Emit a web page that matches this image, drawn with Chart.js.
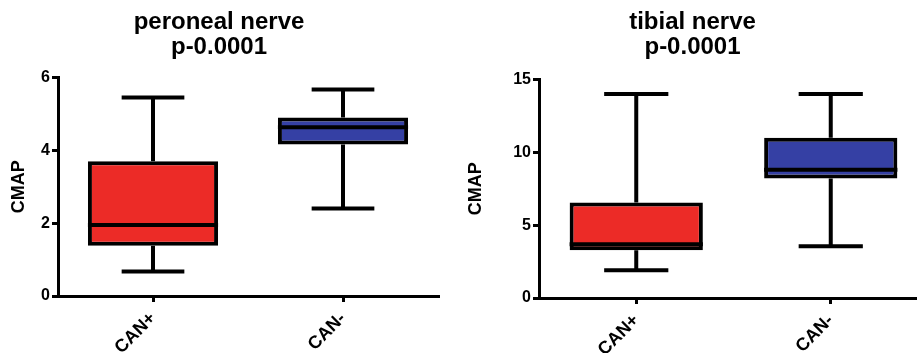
<!DOCTYPE html>
<html>
<head>
<meta charset="utf-8">
<script src="https://cdn.jsdelivr.net/npm/chart.js@4"></script>
<style>
  html, body { margin:0; padding:0; background:#fff; width:917px; height:353px; overflow:hidden; }
  .box { position:absolute; top:0; height:353px; }
</style>
</head>
<body>
<div class="box" style="left:0;width:457px;"><canvas id="c1"></canvas></div>
<div class="box" style="left:457px;width:514px;"><canvas id="c2"></canvas></div>
<script>
const categories = ['CAN+', 'CAN-'];

const peronealMin    = [0.67, 2.4];
const peronealQ1     = [1.38, 4.16];
const peronealMedian = [1.95, 4.63];
const peronealQ3     = [3.7, 4.9];
const peronealMax    = [5.45, 5.67];

const tibialMin    = [1.9, 3.55];
const tibialQ1     = [3.27, 8.2];
const tibialMedian = [3.68, 8.8];
const tibialQ3     = [6.55, 11.0];
const tibialMax    = [14.0, 14.0];

const boxColors = ['#ec2b27', '#3540a4'];
const FONT = 'Liberation Sans, Arial, sans-serif';

const whiskerPlugin = {
  id: 'whiskers',
  beforeDatasetsDraw(chart, args, opts) {
    const ctx = chart.ctx, xs = chart.scales.x, ys = chart.scales.y;
    const catW = xs.getPixelForValue(1) - xs.getPixelForValue(0);
    ctx.save();
    ctx.strokeStyle = '#000';
    ctx.lineWidth = 4;
    ctx.lineCap = 'butt';
    opts.min.forEach((mn, i) => {
      const x = xs.getPixelForValue(i);
      const half = catW * 0.165;
      ctx.beginPath();
      ctx.moveTo(x, ys.getPixelForValue(opts.q3[i]));
      ctx.lineTo(x, ys.getPixelForValue(opts.max[i]));
      ctx.moveTo(x, ys.getPixelForValue(opts.q1[i]));
      ctx.lineTo(x, ys.getPixelForValue(mn));
      ctx.stroke();
      ctx.beginPath();
      ctx.moveTo(x - half, ys.getPixelForValue(opts.max[i]));
      ctx.lineTo(x + half, ys.getPixelForValue(opts.max[i]));
      ctx.moveTo(x - half, ys.getPixelForValue(mn));
      ctx.lineTo(x + half, ys.getPixelForValue(mn));
      ctx.stroke();
    });
    ctx.restore();
  },
  afterDatasetsDraw(chart, args, opts) {
    const ctx = chart.ctx, ys = chart.scales.y;
    const meta = chart.getDatasetMeta(0);
    ctx.save();
    ctx.strokeStyle = '#000';
    ctx.lineWidth = 4;
    meta.data.forEach((bar, i) => {
      const w = bar.width;
      const y = ys.getPixelForValue(opts.median[i]);
      ctx.beginPath();
      ctx.moveTo(bar.x - w / 2, y);
      ctx.lineTo(bar.x + w / 2, y);
      ctx.stroke();
    });
    ctx.restore();
  }
};

function makeChart(id, title, mn, q1, med, q3, mx, yMax, yStep, yWidth, xHeight, rightPad, titleBottom) {
  return new Chart(document.getElementById(id), {
    type: 'bar',
    data: {
      labels: categories,
      datasets: [{
        data: q1.map((v, i) => [v, q3[i]]),
        backgroundColor: boxColors,
        borderColor: '#000',
        borderWidth: 4,
        borderSkipped: false,
        barPercentage: 0.685,
        categoryPercentage: 1
      }]
    },
    options: {
      responsive: true,
      maintainAspectRatio: false,
      animation: false,
      layout: { padding: { left: 0, right: rightPad, top: 0, bottom: 0 } },
      plugins: {
        legend: { display: false },
        tooltip: { enabled: false },
        title: {
          display: true,
          text: title,
          color: '#000',
          font: { family: FONT, size: 24, weight: 'bold', lineHeight: 1.05 },
          padding: { top: 10, bottom: titleBottom }
        },
        whiskers: { min: mn, q1: q1, median: med, q3: q3, max: mx }
      },
      scales: {
        x: {
          type: 'category',
          offset: true,
          afterFit(s) { s.height = xHeight; },
          grid: { display: true, drawOnChartArea: false, offset: false, tickLength: 6, lineWidth: 3, color: '#000' },
          border: { display: true, width: 3, color: '#000' },
          ticks: {
            color: '#000', minRotation: 45, maxRotation: 45, padding: 6,
            font: { family: FONT, size: 18, weight: 'bold' }
          }
        },
        y: {
          min: 0, max: yMax,
          afterFit(s) { s.width = yWidth; },
          grid: { display: true, drawOnChartArea: false, tickLength: 6, lineWidth: 3, color: '#000' },
          border: { display: true, width: 3, color: '#000' },
          ticks: {
            stepSize: yStep, color: '#000', padding: 2,
            font: { family: FONT, size: 16, weight: 'bold' }
          },
          title: {
            display: true, text: 'CMAP', color: '#000', padding: { top: 8, bottom: 0 },
            font: { family: FONT, size: 18, weight: 'bold' }
          }
        }
      }
    },
    plugins: [whiskerPlugin]
  });
}

makeChart('c1', ['peroneal nerve', 'p-0.0001'], peronealMin, peronealQ1, peronealMedian, peronealQ3, peronealMax, 6, 2, 58, 57, 19, 17);
makeChart('c2', ['tibial nerve', 'p-0.0001'], tibialMin, tibialQ1, tibialMedian, tibialQ3, tibialMax, 15, 5, 82, 55, 43, 19);
</script>
</body>
</html>
